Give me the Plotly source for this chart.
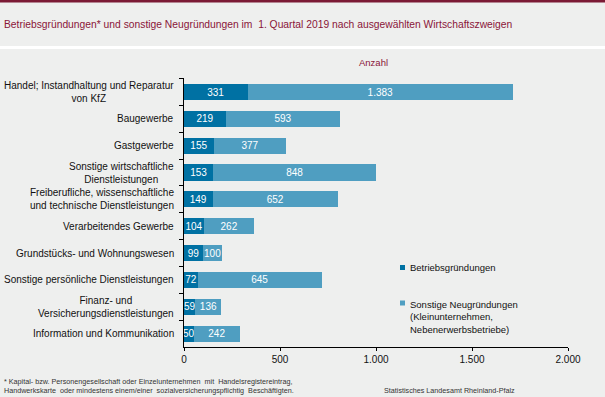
import plotly.graph_objects as go

categories = [
    "Handel; Instandhaltung und Reparatur<br>von KfZ",
    "Baugewerbe",
    "Gastgewerbe",
    "Sonstige wirtschaftliche<br>Dienstleistungen",
    "Freiberufliche, wissenschaftliche<br>und technische Dienstleistungen",
    "Verarbeitendes Gewerbe",
    "Grundstücks- und Wohnungswesen",
    "Sonstige persönliche Dienstleistungen",
    "Finanz- und<br>Versicherungsdienstleistungen",
    "Information und Kommunikation",
]
betriebsgruendungen = [331, 219, 155, 153, 149, 104, 99, 72, 59, 50]
sonstige_neugruendungen = [1383, 593, 377, 848, 652, 262, 100, 645, 136, 242]
series_names = ["Betriebsgründungen",
                "Sonstige Neugründungen<br>(Kleinunternehmen,<br>Nebenerwerbsbetriebe)"]
tick_values = [0, 500, 1000, 1500, 2000]

W, H = 605, 397
L, R, T, B = 184, 37, 78, 50
PW, PH = W - L - R, H - T - B

def px(x):
    return (x - L) / PW

def py(y):
    return (H - B - y) / PH

DARK = "#0071a3"
LIGHT = "#4f9ec1"
BG = "#eeefee"
RED = "#8a1538"
FONT = "Liberation Sans, Arial, sans-serif"

fig = go.Figure()
for vals, name, col in [(betriebsgruendungen, series_names[0], DARK),
                        (sonstige_neugruendungen, series_names[1], LIGHT)]:
    fig.add_trace(go.Bar(y=categories, x=vals, orientation="h",
                         name=name, marker=dict(color=col, line=dict(width=0)),
                         text=vals, texttemplate="%{x:,}",
                         textposition="inside", insidetextanchor="middle",
                         constraintext="none", textangle=0, cliponaxis=False,
                         textfont=dict(color="white", size=10, family=FONT),
                         showlegend=False, width=0.6))

annotations = []
for c in categories:
    annotations.append(dict(x=0, xref="paper", y=c, yref="y", text=c, showarrow=False,
                            xanchor="right", xshift=-8, align="center",
                            font=dict(size=10, color="#111111", family=FONT)))

annotations += [
    dict(x=px(2), y=py(25), xref="paper", yref="paper", xanchor="left", yanchor="middle",
         text="Betriebsgründungen* und sonstige Neugründungen im  1. Quartal 2019 nach ausgewählten Wirtschaftszweigen",
         showarrow=False, font=dict(size=10.3, color=RED, family=FONT)),
    dict(x=px(373), y=py(62), xref="paper", yref="paper", xanchor="center", yanchor="middle",
         text="Anzahl", showarrow=False, font=dict(size=9.5, color=RED, family=FONT)),
    dict(x=px(2), y=py(386), xref="paper", yref="paper", xanchor="left", yanchor="middle",
         align="left", showarrow=False,
         text="* Kapital- bzw. Personengesellschaft oder Einzelunternehmen  mit  Handelsregistereintrag,<br>"
              "Handwerkskarte  oder mindestens einem/einer  sozialversicherungspflichtig  Beschäftigten.",
         font=dict(size=7.2, color="#333333", family=FONT)),
    dict(x=px(517), y=py(390), xref="paper", yref="paper", xanchor="right", yanchor="middle",
         text="Statistisches Landesamt Rheinland-Pfalz", showarrow=False,
         font=dict(size=7.2, color="#333333", family=FONT)),
    dict(x=px(408), y=py(267), xref="paper", yref="paper", xanchor="left", yanchor="middle",
         text=series_names[0], showarrow=False, align="left",
         font=dict(size=9.5, color="#111111", family=FONT)),
    dict(x=px(408), y=py(297), xref="paper", yref="paper", xanchor="left", yanchor="top",
         text=series_names[1], showarrow=False, align="left",
         font=dict(size=9.5, color="#111111", family=FONT)),
]

shapes = [
    dict(type="rect", xref="paper", yref="paper", x0=px(0), x1=px(W), y0=py(0), y1=py(2.5),
         fillcolor="#7b1a35", line=dict(width=0), layer="below"),
    dict(type="rect", xref="paper", yref="paper", x0=px(0), x1=px(W), y0=py(46), y1=py(49),
         fillcolor="white", line=dict(width=0), layer="below"),
    dict(type="rect", xref="paper", yref="paper", x0=px(400), x1=px(405), y0=py(265), y1=py(270),
         fillcolor=DARK, line=dict(width=0)),
    dict(type="rect", xref="paper", yref="paper", x0=px(400), x1=px(405), y0=py(300.5), y1=py(305.5),
         fillcolor=LIGHT, line=dict(width=0)),
]

fig.update_layout(
    width=W, height=H, barmode="stack", bargap=0.4,
    margin=dict(l=L, r=R, t=T, b=B, autoexpand=False),
    paper_bgcolor=BG, plot_bgcolor=BG,
    separators=",.",
    font=dict(family=FONT, size=10, color="#111111"),
    annotations=annotations, shapes=shapes, showlegend=False,
    uniformtext=dict(minsize=10, mode="show"),
    xaxis=dict(range=[0, 2000], tickvals=tick_values, tickformat=",", showgrid=False,
               zeroline=False, showline=True, linecolor="black", linewidth=1,
               ticks="outside", ticklen=3, tickcolor="black",
               tickfont=dict(size=10, color="#111111"), fixedrange=True),
    yaxis=dict(autorange="reversed", showticklabels=False, showgrid=False, zeroline=False,
               showline=True, linecolor="black", linewidth=1,
               ticks="outside", ticklen=4, tickcolor="black", tickson="boundaries"),
)

fig.write_html("out.html", config={"displayModeBar": False},
               post_script="document.body.style.margin='0';document.body.style.overflow='hidden';")
